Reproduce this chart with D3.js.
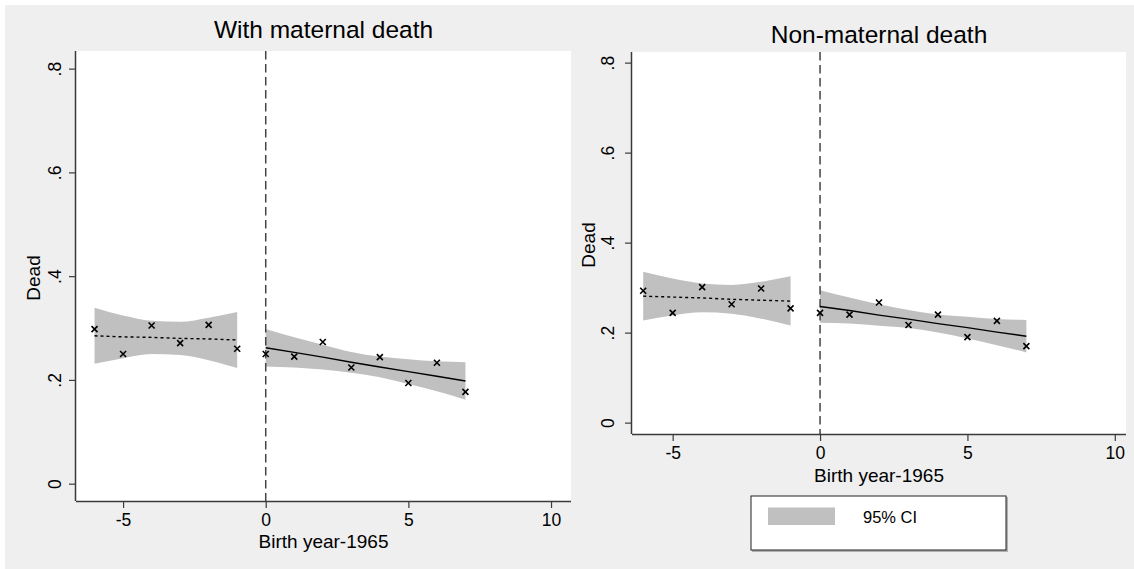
<!DOCTYPE html>
<html>
<head>
<meta charset="utf-8">
<script src="https://cdn.jsdelivr.net/npm/d3@7"></script>
<style>
  html, body { margin: 0; padding: 0; background: #ffffff; }
  svg { display: block; }
  text { font-family: Arial, "Liberation Sans", Helvetica, sans-serif; fill: #000; }
</style>
</head>
<body>
<svg id="chart" width="1134" height="569"></svg>
<script>
// Birth year relative to 1965, before and after the cutoff
const yearsPre = [-6, -5, -4, -3, -2, -1];
const yearsPost = [0, 1, 2, 3, 4, 5, 6, 7];

// Share dead, by birth year: with maternal death
const maternalPre = [0.298, 0.250, 0.305, 0.271, 0.306, 0.260];
const maternalPost = [0.250, 0.245, 0.273, 0.224, 0.244, 0.194, 0.233, 0.177];
const maternalFitPre = [0.285, 0.283, 0.282, 0.280, 0.279, 0.277];
const maternalLoPre = [0.231, 0.242, 0.250, 0.248, 0.238, 0.223];
const maternalHiPre = [0.339, 0.324, 0.314, 0.312, 0.320, 0.331];
const maternalFitPost = [0.262, 0.253, 0.244, 0.234, 0.225, 0.216, 0.207, 0.198];
const maternalLoPost = [0.226, 0.224, 0.220, 0.214, 0.205, 0.192, 0.178, 0.162];
const maternalHiPost = [0.298, 0.282, 0.268, 0.254, 0.245, 0.240, 0.236, 0.234];

// Share dead, by birth year: non-maternal death
const nonMaternalPre = [0.293, 0.244, 0.301, 0.263, 0.298, 0.254];
const nonMaternalPost = [0.244, 0.240, 0.267, 0.217, 0.240, 0.190, 0.226, 0.170];
const nonMaternalFitPre = [0.281, 0.279, 0.277, 0.274, 0.272, 0.270];
const nonMaternalLoPre = [0.227, 0.238, 0.245, 0.242, 0.231, 0.216];
const nonMaternalHiPre = [0.335, 0.320, 0.309, 0.306, 0.313, 0.325];
const nonMaternalFitPost = [0.258, 0.249, 0.239, 0.230, 0.220, 0.211, 0.201, 0.192];
const nonMaternalLoPost = [0.222, 0.220, 0.215, 0.210, 0.200, 0.187, 0.172, 0.156];
const nonMaternalHiPost = [0.294, 0.278, 0.263, 0.250, 0.240, 0.235, 0.230, 0.228];

// Axis ticks and labels
const xTicks = [-5, 0, 5, 10];
const xTickLabels = ["-5", "0", "5", "10"];
const yTicks = [0, 0.2, 0.4, 0.6, 0.8];
const yTickLabels = ["0", ".2", ".4", ".6", ".8"];
const cutoff = 0;
const panelTitles = ["With maternal death", "Non-maternal death"];
const xTitle = "Birth year-1965";
const yTitle = "Dead";
const legendLabel = "95% CI";

const BAND = "#c0c0c0";
const AXIS = "#3a3a3a";

const svg = d3.select("#chart");

// Graph background
svg.append("rect").attr("x", 5).attr("y", 5).attr("width", 1129).attr("height", 564).attr("fill", "#efefef");

const zip = (xs, ys) => xs.map((x, i) => ({ x, y: ys[i] }));

function drawPanel(cfg) {
  const x = d3.scaleLinear().domain(cfg.xDomain).range([cfg.left, cfg.right]);
  const y = d3.scaleLinear().domain(cfg.yDomain).range([cfg.bottom, cfg.top]);
  const g = svg.append("g");

  // Plot region
  g.append("rect")
    .attr("x", cfg.left).attr("y", cfg.top)
    .attr("width", cfg.right - cfg.left).attr("height", cfg.bottom - cfg.top)
    .attr("fill", "#ffffff");

  // Confidence bands
  const band = d3.area()
    .x(d => x(d.x)).y0(d => y(d.lo)).y1(d => y(d.hi))
    .curve(d3.curveMonotoneX);
  [[yearsPre, cfg.loPre, cfg.hiPre], [yearsPost, cfg.loPost, cfg.hiPost]].forEach(([xs, lo, hi]) => {
    g.append("path")
      .datum(xs.map((v, i) => ({ x: v, lo: lo[i], hi: hi[i] })))
      .attr("fill", BAND)
      .attr("d", band);
  });

  // Cutoff line
  g.append("line")
    .attr("x1", x(cutoff)).attr("x2", x(cutoff))
    .attr("y1", cfg.top).attr("y2", cfg.bottom)
    .attr("stroke", "#444").attr("stroke-width", 1.5)
    .attr("stroke-dasharray", "8.5,4.5");

  // Fitted lines
  const line = d3.line().x(d => x(d.x)).y(d => y(d.y));
  g.append("path").datum(zip(yearsPre, cfg.fitPre))
    .attr("fill", "none").attr("stroke", "#000").attr("stroke-width", 1.4)
    .attr("stroke-dasharray", "3,3").attr("d", line);
  g.append("path").datum(zip(yearsPost, cfg.fitPost))
    .attr("fill", "none").attr("stroke", "#000").attr("stroke-width", 1.4)
    .attr("d", line);

  // Cell means as x markers
  const pts = zip(yearsPre, cfg.pre).concat(zip(yearsPost, cfg.post));
  const s = 3;
  g.selectAll("path.mark").data(pts).enter().append("path")
    .attr("class", "mark")
    .attr("d", d => {
      const cx = x(d.x), cy = y(d.y);
      return `M${cx - s},${cy - s}L${cx + s},${cy + s}M${cx - s},${cy + s}L${cx + s},${cy - s}`;
    })
    .attr("stroke", "#000").attr("stroke-width", 1.6).attr("fill", "none");

  // Axes
  const xAxis = g.append("g").attr("transform", `translate(0,${cfg.bottom})`)
    .call(d3.axisBottom(x).tickValues(xTicks).tickSize(7).tickPadding(6)
      .tickFormat((d, i) => xTickLabels[i]));
  xAxis.select(".domain").attr("d", `M${cfg.left},0.5H${cfg.right}`);
  const yAxis = g.append("g").attr("transform", `translate(${cfg.left},0)`)
    .call(d3.axisLeft(y).tickValues(yTicks).tickSize(7).tickFormat((d, i) => yTickLabels[i]));
  yAxis.select(".domain").attr("d", `M-0.5,${cfg.top}V${cfg.bottom}`);
  [xAxis, yAxis].forEach(a => {
    a.select(".domain").attr("stroke", AXIS).attr("stroke-width", 1.5);
    a.selectAll(".tick line").attr("stroke", AXIS).attr("stroke-width", 1.2);
    a.selectAll(".tick text").style("font-size", "17.5px").attr("fill", "#000")
      .style("font-family", "Arial, 'Liberation Sans', sans-serif");
  });
  xAxis.selectAll(".tick text").attr("dy", "0.71em");
  // Rotated y tick labels
  yAxis.selectAll(".tick text")
    .attr("x", null).attr("dy", null)
    .attr("text-anchor", "middle")
    .attr("transform", `translate(${cfg.yLabelX - cfg.left},0) rotate(-90)`)
    .attr("dominant-baseline", "central");

  // Titles
  const cx = (cfg.left + cfg.right) / 2;
  g.append("text").attr("x", cx).attr("y", cfg.titleY)
    .attr("text-anchor", "middle").style("font-size", "24.5px").text(cfg.title);
  g.append("text").attr("x", cx).attr("y", cfg.xTitleY)
    .attr("text-anchor", "middle").style("font-size", "19px").text(xTitle);
  g.append("text")
    .attr("transform", `translate(${cfg.yTitleX},${(cfg.top + cfg.bottom) / 2 + 2}) rotate(-90)`)
    .attr("text-anchor", "middle").attr("dominant-baseline", "central")
    .style("font-size", "19px").text(yTitle);
}

drawPanel({
  left: 76, right: 571, top: 51, bottom: 501,
  xDomain: [-6.65, 10.7], yDomain: [-0.0334, 0.834],
  yLabelX: 55, yTitleX: 33, titleY: 37.5, xTitleY: 548,
  title: panelTitles[0],
  pre: maternalPre, post: maternalPost,
  fitPre: maternalFitPre, fitPost: maternalFitPost,
  loPre: maternalLoPre, hiPre: maternalHiPre,
  loPost: maternalLoPost, hiPost: maternalHiPost
});

drawPanel({
  left: 632, right: 1126, top: 52, bottom: 434,
  xDomain: [-6.38, 10.38], yDomain: [-0.0253, 0.8236],
  yLabelX: 608, yTitleX: 588, titleY: 42.5, xTitleY: 481.5,
  title: panelTitles[1],
  pre: nonMaternalPre, post: nonMaternalPost,
  fitPre: nonMaternalFitPre, fitPost: nonMaternalFitPost,
  loPre: nonMaternalLoPre, hiPre: nonMaternalHiPre,
  loPost: nonMaternalLoPost, hiPost: nonMaternalHiPost
});

// Legend
const legend = svg.append("g");
legend.append("rect").attr("x", 752).attr("y", 497).attr("width", 256).attr("height", 55)
  .attr("fill", "#b0b0b0");
legend.append("rect").attr("x", 751).attr("y", 496).attr("width", 255).attr("height", 54)
  .attr("fill", "#ffffff").attr("stroke", "#222").attr("stroke-width", 1);
legend.append("rect").attr("x", 768).attr("y", 507.5).attr("width", 67).attr("height", 17.5)
  .attr("fill", BAND);
legend.append("text").attr("x", 863).attr("y", 516.5).attr("dominant-baseline", "central")
  .style("font-size", "16.5px").text(legendLabel);
</script>
</body>
</html>
